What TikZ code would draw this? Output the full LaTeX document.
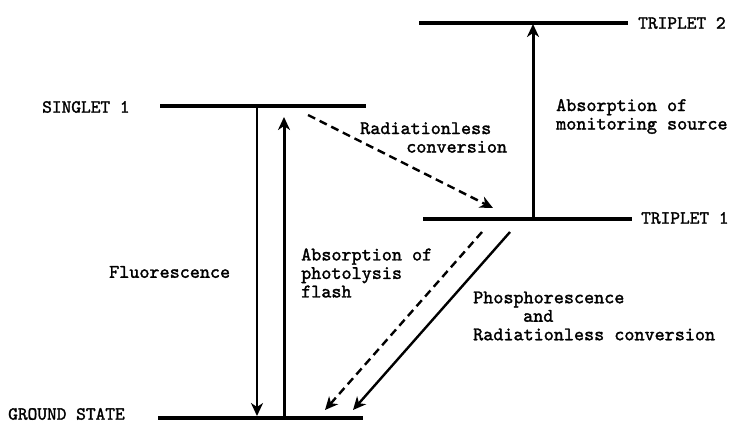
\documentclass[tikz,border=0pt]{standalone}
\usepackage{fontspec}
\newfontfamily\twfont{lmmono10-regular}[Extension=.otf, FakeBold=1.6]
\usepackage{tikz}
\usetikzlibrary{arrows.meta}
\tikzset{
    level/.style={line width=3.5pt},
    trans/.style={line width=2.4pt, -{Stealth[length=13pt, width=12pt, inset=4pt]}},
    nonrad/.style={trans, dash pattern=on 8pt off 5pt},
    statelabel/.style={font=\twfont\fontsize{18.5}{19}\selectfont, anchor=west, inner sep=0pt},
    translabel/.style={font=\twfont\fontsize{19.2}{18.5}\selectfont, align=left, anchor=west, inner sep=0pt}
}

\begin{document}
\begin{tikzpicture}[x=1pt, y=-1pt]
    \useasboundingbox (0,0) rectangle (730,423);

    % energy levels
    \coordinate (s1l) at (160,106); \coordinate (s1r) at (366,106);
    \coordinate (t2l) at (419,23);  \coordinate (t2r) at (628,23);
    \coordinate (t1l) at (423,219); \coordinate (t1r) at (632,219);
    \coordinate (g0l) at (158,418); \coordinate (g0r) at (363,418);

    \draw[level] (s1l) -- (s1r);
    \draw[level] (t2l) -- (t2r);
    \draw[level] (t1l) -- (t1r);
    \draw[level] (g0l) -- (g0r);

    \node[statelabel] (s1) at (42,107) {SINGLET 1};
    \node[statelabel] (t2) at (638,23) {TRIPLET 2};
    \node[statelabel] (t1) at (641,218) {TRIPLET 1};
    \node[statelabel] (g0) at (8,414) {GROUND STATE};

    % transitions
    \coordinate (fl1) at (257,106); \coordinate (fl2) at (257,416);
    \coordinate (ab1) at (284,418); \coordinate (ab2) at (284,117);
    \coordinate (rc1) at (308,115); \coordinate (rc2) at (493,208);
    \coordinate (mo1) at (533,219); \coordinate (mo2) at (533,24);
    \coordinate (dr1) at (482,232); \coordinate (dr2) at (325,410);
    \coordinate (ph1) at (510,232); \coordinate (ph2) at (353,410);

    \draw[trans] (fl1) -- (fl2);
    \draw[trans, line width=3pt] (ab1) -- (ab2);
    \draw[nonrad] (rc1) -- (rc2);
    \draw[trans, line width=3pt] (mo1) -- (mo2);
    \draw[nonrad] (dr1) -- (dr2);
    \draw[trans] (ph1) -- (ph2);

    \node[translabel] (fllbl) at (109,272) {Fluorescence};
    \node[translabel] (ablbl) at (301,273) {Absorption of\\photolysis\\flash};
    \node[translabel] (rclbl) at (360,137.5) {Radiationless\\\hspace*{2.4em}conversion};
    \node[translabel] (molbl) at (556,116.5) {Absorption of\\monitoring source};
    \node[translabel] (phlbl) at (473,316) {Phosphorescence\\\hspace*{2.6em}and\\Radiationless conversion};
\end{tikzpicture}
\end{document}
